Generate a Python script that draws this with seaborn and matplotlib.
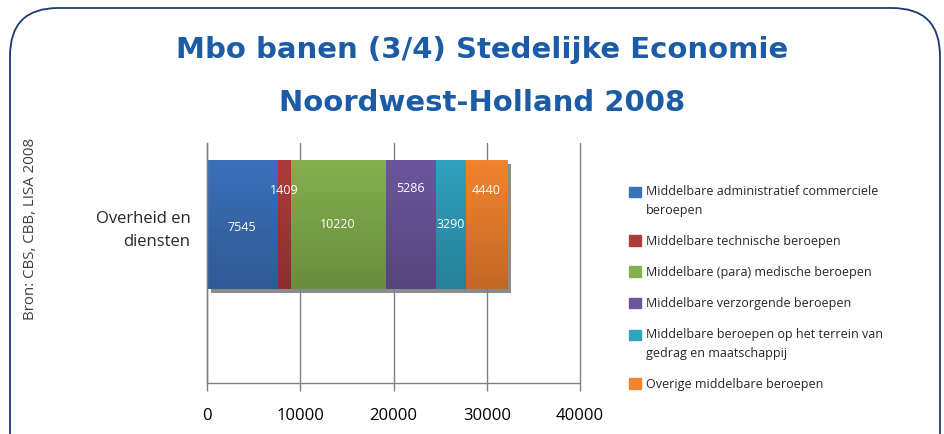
import matplotlib
matplotlib.use("Agg")
import matplotlib.pyplot as plt
import matplotlib.patheffects as pe
from matplotlib.colors import to_rgb
from matplotlib.patches import FancyBboxPatch
from matplotlib.transforms import IdentityTransform
import seaborn as sns
import pandas as pd
import numpy as np

# data
category = ["Overheid en\ndiensten"]
groups = [
    "Middelbare administratief commerciele\nberoepen",
    "Middelbare technische beroepen",
    "Middelbare (para) medische beroepen",
    "Middelbare verzorgende beroepen",
    "Middelbare beroepen op het terrein van\ngedrag en maatschappij",
    "Overige middelbare beroepen",
]
values = [7545, 1409, 10220, 5286, 3290, 4440]
colors = ["#3b70ba", "#ad3b3a", "#84b04e", "#6b569e", "#30a1be", "#f2832f"]
# vertical nudges of the value labels (category units), as Excel placed them
label_dy = [0.02, -0.21, 0.0, -0.225, 0.0, -0.21]
x_ticks = [0, 10000, 20000, 30000, 40000]

sns.set_theme(style="white")
plt.rcParams["font.family"] = ["Open Sans", "DejaVu Sans"]

fig = plt.figure(figsize=(9.44, 4.34), dpi=100)
ax = fig.add_axes([207 / 944, 51 / 434, 373 / 944, 240 / 434])

# stacked bar: draw cumulative totals from the largest down
cum = np.cumsum(values)
df = pd.DataFrame({"cat": category * len(values), "total": cum, "grp": groups})
for i in reversed(range(len(values))):
    sns.barplot(data=df.iloc[[i]], x="total", y="cat", color=colors[i],
                width=0.8, orient="h", ax=ax, saturation=1, linewidth=0)

# vertical gradient fill (light top, darker bottom) clipped to each bar
for k, patch in enumerate(ax.patches):
    c = np.array(to_rgb(patch.get_facecolor()))
    ramp = np.linspace(1.0, 0.8, 64)[:, None, None] * c[None, None, :]
    x0, y0 = patch.get_x(), patch.get_y()
    w, h = patch.get_width(), patch.get_height()
    im = ax.imshow(ramp, extent=(x0, x0 + w, y0 + h, y0), aspect="auto",
                   interpolation="bilinear", zorder=1.01 + k * 0.01)
    im.set_clip_path(patch)
    patch.set_facecolor("none")

# shadow behind the full bar
back = ax.patches[0]
back.set_path_effects([pe.SimplePatchShadow(offset=(3, -3), shadow_rgbFace="#7f7f7f",
                                            alpha=0.9), pe.Normal()])

starts = cum - np.array(values)
for v, s, dy in zip(values, starts, label_dy):
    ax.text(s + v / 2, dy, str(v), color="white", fontsize=9,
            ha="center", va="center", zorder=3)

ax.set_xlim(0, 40000)
ax.set_ylim(0.984, -0.506)
ax.set_xticks(x_ticks)
ax.set_xticklabels([str(t) for t in x_ticks], fontsize=12, color="black")
ax.tick_params(axis="x", length=6, width=1, color="#808080", pad=12, bottom=True)
ax.tick_params(axis="y", length=0, pad=12, labelsize=12)
for lab in ax.get_yticklabels():
    lab.set_horizontalalignment("right")
    lab.set_multialignment("right")
    lab.set_linespacing(1.6)
ax.set_xlabel("")
ax.set_ylabel("")
ax.grid(axis="x", color="#808080", linewidth=1)
for gl in ax.get_xgridlines():
    gl.set_clip_on(False)
ax.set_axisbelow(True)
for side in ["top", "right"]:
    ax.spines[side].set_visible(False)
for side in ["left", "bottom"]:
    ax.spines[side].set_color("#808080")
    ax.spines[side].set_linewidth(1)

# legend
handles = [plt.Rectangle((0, 0), 1, 1, color=c) for c in colors]
leg = fig.legend(handles, groups, loc="upper left",
                 bbox_to_anchor=(618 / 944, 1 - 174 / 434), frameon=False,
                 fontsize=9, handlelength=0.9, handleheight=0.9,
                 handletextpad=0.4, labelspacing=1.45)
for t, hdl in zip(leg.get_texts(), leg.legend_handles):
    t.set_linespacing(1.55)
    # keep the swatch level with the first line of a two-line label
    if "\n" in t.get_text():
        hdl.set_y(hdl.get_y() + 7.0)

# title
title_kw = dict(ha="center", va="center", fontsize=21, fontweight="bold",
                color="#1c5ca7", family="DejaVu Sans")
fig.text(482 / 944, 1 - 50 / 434, "Mbo banen (3/4) Stedelijke Economie", **title_kw)
fig.text(482 / 944, 1 - 103 / 434, "Noordwest-Holland 2008", **title_kw)

# source note
fig.text(31 / 944, 1 - 229 / 434, "Bron: CBS, CBB, LISA 2008", rotation=90,
         ha="center", va="center", fontsize=10.8, color="#404040")

# rounded frame
frame = FancyBboxPatch((10, -60), 930, 434 - 8 + 60,
                       boxstyle="round,pad=0,rounding_size=48",
                       transform=IdentityTransform(), fill=False,
                       edgecolor="#1b3a6b", linewidth=1.3)
fig.patches.append(frame)

fig.savefig("out.png", dpi=100)
